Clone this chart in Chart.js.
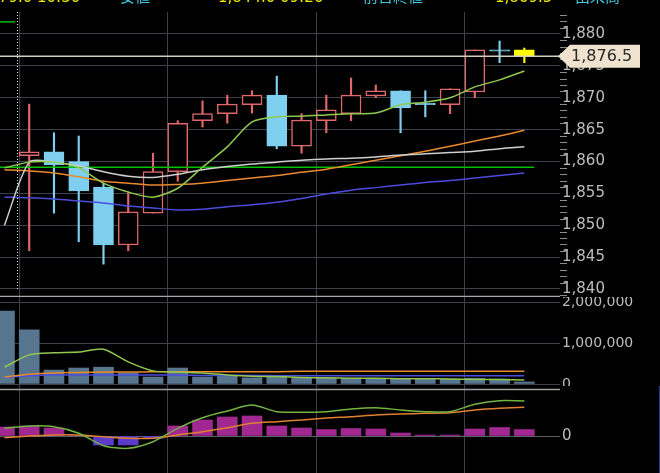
<!DOCTYPE html>
<html>
<head>
<meta charset="utf-8">
<script src="https://cdn.jsdelivr.net/npm/chart.js@4.4.0/dist/chart.umd.min.js"></script>
<style>
  html, body { margin: 0; padding: 0; background: #000; overflow: hidden; }
  #wrap { position: relative; width: 660px; height: 473px; background: #000; }
  canvas { position: absolute; left: 0; }
  #main { top: 0; }
  #vol { top: 297px; }
  #macd { top: 386px; }
  #edge { position: absolute; left: 659px; top: 386px; width: 1px; height: 87px; background: #1e3c8c; }
</style>
</head>
<body>
<div id="wrap">
  <canvas id="main" width="660" height="297"></canvas>
  <canvas id="vol" width="660" height="89"></canvas>
  <canvas id="macd" width="660" height="87"></canvas>
  <div id="edge"></div>
</div>
<script>
// candles (index 0 is the clipped bar at the left edge, price off-panel)
const opens  = [null, 1860.9, 1861.5, 1860.0, 1856.0, 1846.9, 1851.9, 1858.4, 1866.4, 1867.5, 1868.9, 1870.4, 1862.4, 1866.4, 1867.5, 1870.3, 1871.1, 1869.0, 1868.9, 1870.9, 1877.4, 1877.5]
const highs  = [null, 1869.0, 1864.5, 1864.0, 1856.6, 1855.1, 1861.3, 1866.4, 1869.5, 1870.4, 1871.1, 1873.4, 1867.5, 1870.4, 1873.1, 1872.0, 1871.1, 1871.1, 1871.4, 1877.5, 1878.9, 1877.8]
const lows   = [null, 1846.0, 1851.9, 1847.4, 1843.9, 1846.0, 1851.9, 1856.9, 1865.4, 1866.0, 1867.6, 1862.0, 1861.3, 1864.5, 1866.4, 1870.0, 1864.5, 1867.0, 1867.5, 1870.0, 1875.5, 1875.5]
const closes = [null, 1861.5, 1859.5, 1855.4, 1846.9, 1852.1, 1858.4, 1866.0, 1867.5, 1869.0, 1870.4, 1862.4, 1866.5, 1868.1, 1870.4, 1871.1, 1868.4, 1868.9, 1871.4, 1877.5, 1877.3, 1876.5]

// moving averages on price
const ma5   = [1859.0, 1859.9, 1859.9, 1859.0, 1856.6, 1855.2, 1854.4, 1855.8, 1859.1, 1862.3, 1866.2, 1867.0, 1867.1, 1867.3, 1867.5, 1867.6, 1868.9, 1869.3, 1870.0, 1871.7, 1872.8, 1874.2]
const ma25  = [1850.0, 1859.9, 1859.9, 1859.3, 1858.4, 1857.7, 1857.5, 1858.0, 1858.7, 1859.2, 1859.6, 1859.9, 1860.2, 1860.4, 1860.5, 1860.7, 1861.0, 1861.2, 1861.4, 1861.6, 1862.0, 1862.3]
const ma75  = [1858.7, 1858.5, 1858.2, 1857.6, 1856.9, 1856.6, 1856.3, 1856.4, 1856.6, 1857.0, 1857.4, 1857.8, 1858.3, 1858.8, 1859.5, 1860.2, 1860.9, 1861.6, 1862.4, 1863.2, 1864.0, 1864.9]
const ma200 = [1854.4, 1854.3, 1854.1, 1853.8, 1853.5, 1853.0, 1852.7, 1852.4, 1852.5, 1852.9, 1853.2, 1853.6, 1854.2, 1854.9, 1855.5, 1855.9, 1856.3, 1856.7, 1857.0, 1857.4, 1857.8, 1858.2]
const levelLine = 1859.1
const levelEnd = 21.4
const prevLine = 1881.9

// volume
const volumes = [1780000, 1320000, 340000, 390000, 410000, 270000, 170000, 390000, 170000, 200000, 150000, 200000, 150000, 140000, 140000, 130000, 140000, 120000, 120000, 140000, 120000, 50000]
const volMa5  = [410000, 710000, 760000, 780000, 850000, 540000, 320000, 290000, 270000, 220000, 190000, 180000, 160000, 150000, 140000, 140000, 130000, 130000, 120000, 110000, 110000, 100000]
const volMa25 = [170000, 240000, 270000, 280000, 290000, 290000, 300000, 300000, 300000, 300000, 300000, 300000, 310000, 310000, 310000, 310000, 310000, 310000, 310000, 310000, 310000, 310000]
const volMa75 = [160000, 200000, 220000, 220000, 220000, 220000, 220000, 220000, 210000, 210000, 210000, 200000, 200000, 200000, 200000, 200000, 200000, 200000, 200000, 200000, 200000, 200000]

// MACD
const macdHist   = [0.9, 1.0, 0.8, 0.05, -0.9, -0.9, -0.25, 1.0, 1.6, 1.9, 2.0, 1.0, 0.8, 0.65, 0.75, 0.7, 0.3, 0.1, 0.1, 0.7, 0.85, 0.65]
const macdLine   = [0.77, 1.0, 0.93, 0.27, -0.97, -1.23, -0.57, 0.77, 1.83, 2.5, 3.1, 2.43, 2.37, 2.43, 2.7, 2.83, 2.6, 2.43, 2.43, 3.17, 3.53, 3.5]
const macdSignal = [-0.17, 0.0, 0.1, 0.1, -0.07, -0.23, -0.23, 0.1, 0.43, 0.83, 1.27, 1.43, 1.6, 1.8, 1.93, 2.1, 2.2, 2.27, 2.33, 2.6, 2.77, 2.87]

const priceTicks = [1840, 1845, 1850, 1855, 1860, 1865, 1870, 1875, 1880]
const volTicks = [0, 1000000, 2000000]
const macdTicks = [0]
const dayLines = [0.6, 6.6, 12.6, 18.6]
const sessionStart = 0.52
const header = [
  {text: '1,879.0 10:30', color: '#e8e800'},
  {text: '安値', color: '#40c8e0'},
  {text: '1,844.0 09:26', color: '#e8e800'},
  {text: '前日終値', color: '#40c8e0'},
  {text: '1,869.5', color: '#e8e800'},
  {text: '出来高', color: '#40c8e0'}
]
const headerX = [-25, 120, 218, 363, 495, 575]

const X_MIN = -0.18, X_MAX = 22.44
const GRID = '#3d414b'
const RED = '#e0686a', BLUE = '#7fcff0', YELLOW = '#ffff00'
const fmt = v => v.toLocaleString('en-US')
const pts = arr => arr.map((v, i) => ({x: i, y: v}))

const xAxis = () => ({
  type: 'linear', min: X_MIN, max: X_MAX, offset: false,
  afterBuildTicks: s => { s.ticks = dayLines.map(v => ({value: v})) },
  afterFit: s => { s.height = 0 },
  ticks: {display: false},
  grid: {color: GRID, drawTicks: false, offset: false},
  border: {display: false}
})

const yAxis = (min, max, ticks, size, grid) => ({
  type: 'linear', position: 'right', min, max,
  afterBuildTicks: s => { s.ticks = ticks.map(v => ({value: v})) },
  afterFit: s => { s.width = 100; s.paddingTop = 0; s.paddingBottom = 0 },
  ticks: {color: '#bdbdbd', padding: 2, font: {family: 'DejaVu Sans', size}, callback: v => fmt(v)},
  grid: {color: grid || GRID, drawTicks: false},
  border: {display: false}
})

const baseOpts = (padding) => ({
  responsive: false, animation: false, events: [],
  layout: {padding},
  plugins: {legend: {display: false}, tooltip: {enabled: false}}
})

const line = (data, color, order) => ({
  type: 'line', data: pts(data), borderColor: color, borderWidth: 1.5,
  pointRadius: 0, tension: 0.25, order
})

// candle colours
const up = closes.map((c, i) => c !== null && c >= opens[i])
const isLast = i => i === closes.length - 1
const bodyFill = closes.map((c, i) => isLast(i) ? YELLOW : (up[i] ? '#000' : BLUE))
const bodyEdge = closes.map((c, i) => isLast(i) ? YELLOW : (up[i] ? RED : BLUE))

const mainPlugin = {
  id: 'mainExtras',
  afterDraw(chart) {
    const {ctx, chartArea: a, scales: {x, y}} = chart
    ctx.save()
    // session separator
    ctx.strokeStyle = '#e6e6e6'; ctx.lineWidth = 1; ctx.setLineDash([1, 2])
    const sx = Math.round(x.getPixelForValue(sessionStart)) + 0.5
    ctx.beginPath(); ctx.moveTo(sx, a.top); ctx.lineTo(sx, a.bottom - 6); ctx.stroke()
    ctx.setLineDash([])
    // minor ticks
    ctx.strokeStyle = '#8c8c8c'
    for (let v = Math.ceil(y.min); v <= y.max; v++) {
      if (v % 5 === 0) continue
      const py = Math.round(y.getPixelForValue(v)) + 0.5
      ctx.beginPath(); ctx.moveTo(a.right, py); ctx.lineTo(a.right + 7, py); ctx.stroke()
    }
    // panel bottom border
    ctx.strokeStyle = '#a8a8a8'; ctx.lineWidth = 1.5
    ctx.beginPath(); ctx.moveTo(0, a.bottom + 0.5); ctx.lineTo(a.right, a.bottom + 0.5); ctx.stroke()
    // current price line and tag
    const last = closes[closes.length - 1]
    const py = y.getPixelForValue(last)
    ctx.strokeStyle = '#d6cdbd'; ctx.lineWidth = 1.5
    ctx.beginPath(); ctx.moveTo(a.left, py); ctx.lineTo(a.right, py); ctx.stroke()
    const tx = a.right - 2
    ctx.fillStyle = '#efe3cf'
    ctx.beginPath()
    ctx.moveTo(tx, py); ctx.lineTo(tx + 12, py - 11.5); ctx.lineTo(640, py - 11.5)
    ctx.lineTo(640, py + 11.5); ctx.lineTo(tx + 12, py + 11.5); ctx.closePath(); ctx.fill()
    ctx.fillStyle = '#2a2a2a'; ctx.font = '16px "DejaVu Sans"'; ctx.textBaseline = 'middle'; ctx.textAlign = 'left'
    ctx.fillText(last.toLocaleString('en-US', {minimumFractionDigits: 1}), 571, py + 1)
    // header strip (cut off at the top)
    ctx.font = '15px "DejaVu Sans", "Noto Sans CJK JP"'; ctx.textBaseline = 'alphabetic'
    header.forEach((h, i) => { ctx.fillStyle = h.color; ctx.fillText(h.text, headerX[i], 2) })
    ctx.restore()
  }
}

new Chart(document.getElementById('main'), {
  data: {
    datasets: [
      line(ma5, '#90c850', 0),
      line(ma25, '#cfcfcf', 0),
      line(ma75, '#e88a30', 0),
      line(ma200, '#4c4cdc', 0),
      {type: 'line', data: [{x: X_MIN, y: levelLine}, {x: levelEnd, y: levelLine}], borderColor: '#00c000', borderWidth: 1.5, pointRadius: 0, order: 0},
      {type: 'line', data: [{x: X_MIN, y: prevLine}, {x: 0.43, y: prevLine}], borderColor: '#00c000', borderWidth: 1.5, pointRadius: 0, order: 0},
      {
        type: 'bar', order: 1, grouped: false, barThickness: 20, minBarLength: 1.5,
        data: closes.map((c, i) => ({x: i, y: c === null ? null : [opens[i], c]})),
        backgroundColor: bodyFill, borderColor: bodyEdge, borderWidth: 1.5, borderSkipped: false
      },
      {
        type: 'bar', order: 2, grouped: false, barThickness: 1.5,
        data: highs.map((h, i) => ({x: i, y: h === null ? null : [lows[i], h]})),
        backgroundColor: bodyEdge, borderWidth: 0
      }
    ]
  },
  options: Object.assign(baseOpts({top: 12, bottom: 1, left: 0, right: 0}), {
    scales: {x: xAxis(), y: yAxis(1838.9, 1883.45, priceTicks, 15)}
  }),
  plugins: [mainPlugin]
})

new Chart(document.getElementById('vol'), {
  data: {
    datasets: [
      line(volMa5, '#90c850', 0),
      line(volMa25, '#e88a30', 0),
      line(volMa75, '#4c4cdc', 0),
      {type: 'bar', order: 1, grouped: false, barThickness: 20, data: pts(volumes), backgroundColor: '#587590'}
    ]
  },
  options: Object.assign(baseOpts(0), {
    scales: {x: xAxis(), y: yAxis(-48780, 2122000, volTicks, 14)}
  })
})

const macdPlugin = {
  id: 'macdBorder',
  afterDraw(chart) {
    const {ctx, chartArea: a} = chart
    ctx.save()
    ctx.strokeStyle = '#a0a0a0'; ctx.lineWidth = 1.5
    ctx.beginPath(); ctx.moveTo(0, 3.5); ctx.lineTo(a.right, 3.5); ctx.stroke()
    ctx.restore()
  }
}

new Chart(document.getElementById('macd'), {
  data: {
    datasets: [
      line(macdLine, '#74b441', 0),
      line(macdSignal, '#e08030', 0),
      {
        type: 'bar', order: 1, grouped: false, barThickness: 20, data: pts(macdHist),
        backgroundColor: macdHist.map(v => v >= 0 ? '#a02890' : '#5a3cc8')
      }
    ]
  },
  options: Object.assign(baseOpts(0), {
    scales: {x: xAxis(), y: yAxis(-3.7, 5.0, macdTicks, 15, '#5c616b')}
  }),
  plugins: [macdPlugin]
})
</script>
</body>
</html>
